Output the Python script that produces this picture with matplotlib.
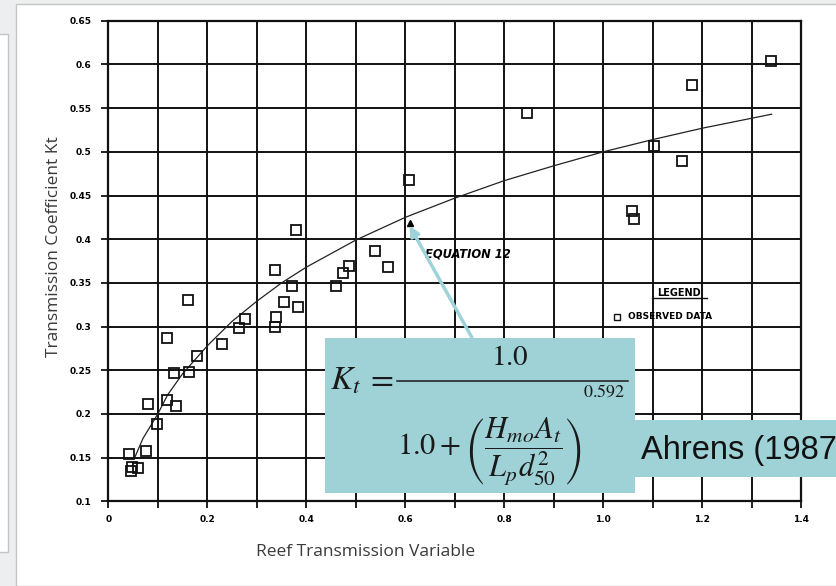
import numpy as np
import matplotlib
matplotlib.use('Agg')
import matplotlib.pyplot as plt
from matplotlib.patches import Rectangle
from matplotlib.lines import Line2D

plt.rcParams['mathtext.fontset'] = 'stix'

reef_var = [0.042, 0.047, 0.045, 0.061, 0.076, 0.081, 0.099, 0.118, 0.119, 0.133,
            0.137, 0.162, 0.164, 0.179, 0.230, 0.265, 0.277, 0.337, 0.339, 0.337,
            0.355, 0.371, 0.383, 0.379, 0.461, 0.474, 0.487, 0.538, 0.565, 0.607,
            0.846, 1.057, 1.063, 1.103, 1.159, 1.179, 1.338]
kt_obs = [0.154, 0.139, 0.135, 0.138, 0.158, 0.212, 0.188, 0.216, 0.287, 0.247,
          0.209, 0.331, 0.248, 0.266, 0.280, 0.298, 0.309, 0.365, 0.311, 0.300,
          0.328, 0.346, 0.322, 0.411, 0.346, 0.361, 0.369, 0.386, 0.368, 0.468,
          0.544, 0.432, 0.423, 0.507, 0.490, 0.576, 0.604]

# equation 12 curve
curve_x = [0.054, 0.07, 0.1, 0.12, 0.15, 0.2, 0.25, 0.3, 0.35, 0.4, 0.5, 0.6,
           0.7, 0.8, 0.9, 1.0, 1.1, 1.2, 1.34]
curve_y = [0.151, 0.172, 0.200, 0.222, 0.246, 0.278, 0.306, 0.329, 0.350, 0.368,
           0.399, 0.425, 0.447, 0.467, 0.484, 0.500, 0.514, 0.527, 0.543]

xticks = np.round(np.arange(0, 1.41, 0.1), 1)
xticklabels = ['0', '', '0.2', '', '0.4', '', '0.6', '', '0.8', '', '1.0', '', '1.2', '', '1.4']
yticks = np.round(np.arange(0.1, 0.651, 0.05), 2)
yticklabels = ['0.1', '0.15', '0.2', '0.25', '0.3', '0.35', '0.4', '0.45', '0.5', '0.55', '0.6', '0.65']

W, H = 836, 586
fig = plt.figure(figsize=(W / 100, H / 100), dpi=100, facecolor='#eceeef')


def fx(px):
    return px / W


def fy(py):
    return 1 - py / H


# slide chrome
fig.patches.append(Rectangle((fx(16), 0), 1, fy(4), transform=fig.transFigure,
                             facecolor='white', edgecolor='#c4c6c6', lw=1, zorder=-2))
fig.patches.append(Rectangle((-0.01, fy(552)), fx(8) + 0.01, fy(34) - fy(552),
                             transform=fig.transFigure, facecolor='white',
                             edgecolor='#c4c6c6', lw=1, zorder=-2))

ax = fig.add_axes([fx(108.3), fy(501.4), fx(801.3) - fx(108.3), fy(20.7) - fy(501.4)])

ax.set_xlim(0, 1.4)
ax.set_ylim(0.1, 0.65)
ax.set_xticks(xticks)
ax.set_xticklabels(xticklabels)
ax.set_yticks(yticks)
ax.set_yticklabels(yticklabels)
ax.tick_params(direction='out', length=5, width=1.3, color='#111111',
               labelsize=6.5, pad=7)
ax.tick_params(axis='x', pad=5)
for lab in ax.get_xticklabels() + ax.get_yticklabels():
    lab.set_fontweight('bold')
ax.grid(True, color='#111111', lw=1.4)
for s in ax.spines.values():
    s.set_color('#111111')
    s.set_linewidth(1.6)

ax.plot(curve_x, curve_y, color='#222222', lw=0.9)
ax.plot(reef_var, kt_obs, ls='none', marker='s', ms=6.5, mfc='none',
        mec='#111111', mew=1.3)

# annotation of equation 12
ax.plot([0.6095], [0.419], ls='none', marker='^', ms=5, color='black')
ax.text(0.64, 0.383, 'EQUATION 12', fontsize=8.3, fontweight='bold',
        fontstyle='italic', va='center', ha='left')
ax.annotate('', xy=(0.606, 0.418), xytext=(0.737, 0.285),
            arrowprops=dict(arrowstyle='-|>', color='#9fd3da', lw=2.5, mutation_scale=14),
            annotation_clip=False)

# legend block
ax.text(1.153, 0.339, 'LEGEND', fontsize=7, fontweight='bold', ha='center', va='center')
ax.plot([1.098, 1.209], [0.3325, 0.3325], color='#111111', lw=1)
ax.plot([1.027], [0.3115], ls='none', marker='s', ms=4.5, mfc='none',
        mec='#111111', mew=1)
ax.text(1.05, 0.3115, 'OBSERVED DATA', fontsize=6.5, fontweight='bold',
        ha='left', va='center')

# axis labels
fig.text(fx(366), fy(552), 'Reef Transmission Variable', family='Open Sans',
         fontsize=12.5, color='#3a3a3a', ha='center', va='center')
fig.text(fx(54), fy(247), 'Transmission Coefficient Kt', family='Open Sans',
         fontsize=12.5, color='#3a3a3a', ha='center', va='center', rotation=90)

# equation boxes
box_col = '#9fd2d7'
eq_col = '#1a1a1a'
fig.patches.append(Rectangle((fx(324.5), fy(493)), fx(635) - fx(324.5), fy(337.5) - fy(493),
                             transform=fig.transFigure, facecolor=box_col,
                             edgecolor='none', zorder=5))
fig.patches.append(Rectangle((fx(635), fy(477)), 0.3, fy(420) - fy(477),
                             transform=fig.transFigure, facecolor=box_col,
                             edgecolor='none', zorder=5))
fig.text(fx(330), fy(380), r'$K_t$', fontsize=24, ha='left', va='center',
         color=eq_col, zorder=6)
fig.text(fx(380), fy(379), r'$=$', fontsize=24, ha='center', va='center',
         color=eq_col, zorder=6)
fig.lines.append(Line2D([fx(397), fx(628)], [fy(380.7), fy(380.7)],
                        transform=fig.transFigure, color=eq_col, lw=1.1, zorder=6))
fig.text(fx(510), fy(357), r'$1.0$', fontsize=21, ha='center', va='center',
         color=eq_col, zorder=6)
fig.text(fx(397), fy(452), r'$1.0+\left(\dfrac{H_{mo}A_t}{L_p d_{50}^2}\right)$',
         fontsize=22, ha='left', va='center', color=eq_col, zorder=6)
fig.text(fx(604), fy(392), r'$0.592$', fontsize=13, ha='center', va='center',
         color=eq_col, zorder=6)
fig.text(fx(641), fy(450), 'Ahrens (1987)', family='Liberation Sans', fontsize=23.5,
         ha='left', va='center', color='#111111', zorder=6)

fig.savefig('out.png', dpi=100, facecolor=fig.get_facecolor())
